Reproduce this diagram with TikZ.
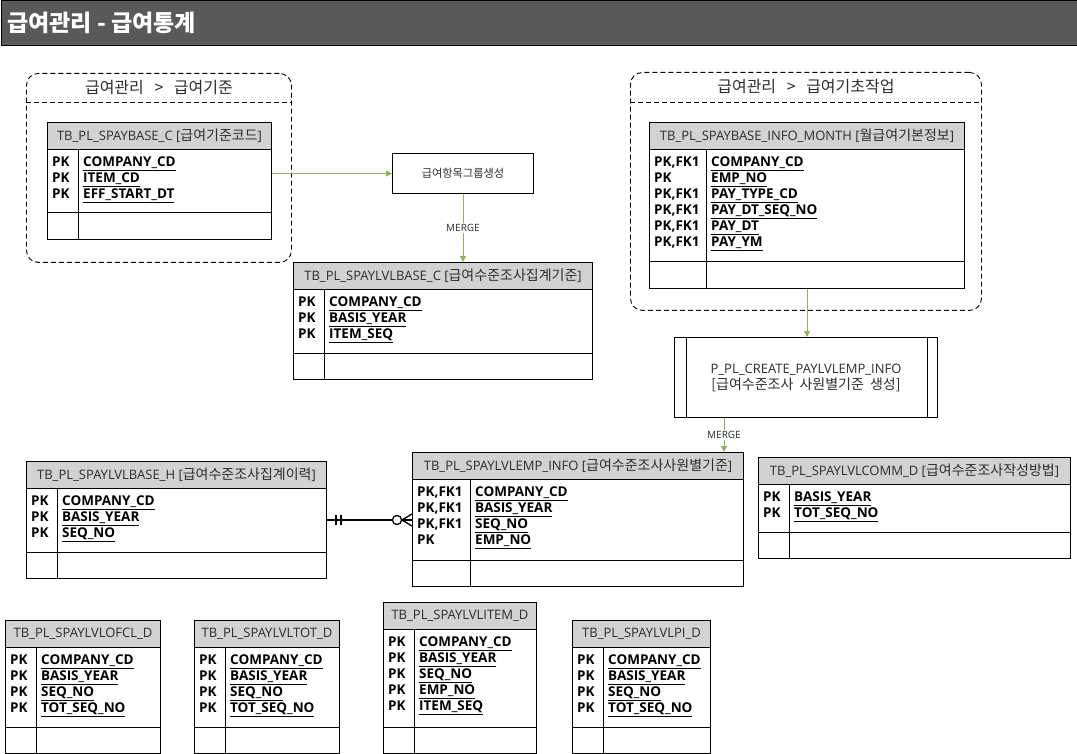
\documentclass[tikz,border=0pt]{standalone}
\usepackage{fontspec}
\setmainfont{Open Sans}
\newfontfamily\kr{Noto Sans CJK KR}
\usetikzlibrary{arrows.meta,calc}
\definecolor{barfill}{RGB}{89,89,89}
\definecolor{hdrfill}{RGB}{210,210,210}
\definecolor{flowgreen}{RGB}{143,180,85}
\definecolor{softtext}{RGB}{45,45,45}
\newcommand\kh[1]{{\kr\fontsize{14}{16}\selectfont #1}}
\tikzset{
  tbl/.style={draw=black, line width=1pt, inner sep=0pt, fill=white},
  tblhdr/.style={draw=black, line width=1pt, fill=hdrfill, inner sep=0pt, text=softtext, font=\fontsize{13}{15}\selectfont},
  tblline/.style={draw=black, line width=1pt},
  rowtxt/.style={inner sep=0pt, anchor=base west, font=\fontsize{13.5}{15}\selectfont\bfseries},
  grp/.style={draw=black, line width=0.9pt, dash pattern=on 5pt off 3pt, rounded corners=12pt, inner sep=0pt},
  grpsep/.style={draw=black, line width=0.9pt, dash pattern=on 5pt off 3pt},
  grptitle/.style={inner sep=0pt, text=softtext, font=\kr\fontsize{16}{18}\selectfont},
  procbox/.style={draw=black, line width=1pt, inner sep=0pt, fill=white, text=softtext},
  flow/.style={draw=flowgreen, line width=1pt, -{Triangle[width=6pt,length=6pt]}},
  flowlbl/.style={fill=white, inner sep=1pt, text=softtext, font=\fontsize{10}{11}\selectfont},
  erline/.style={draw=black, line width=1.6pt},
}
% #1 name, #2 x, #3 y, #4 width, #5 body height, #6 divider offset, #7 title, #8 rows
\newcommand\ertab[8]{%
  \node[tbl, minimum width=#4pt, minimum height={#5pt+54pt}, anchor=north west] (#1) at (#2,#3) {};
  \node[tblhdr, minimum width=#4pt, minimum height=27pt, anchor=north west] (#1-h) at (#2,#3) {#7};
  \draw[tblline] ($(#1-h.south west)+(0,#5)$) -- ($(#1-h.south east)+(0,#5)$);
  \draw[tblline] ($(#1-h.south west)+(#6,0)$) -- ($(#1.south west)+(#6,0)$);
  \foreach \k/\f [count=\i] in {#8} {
    \node[rowtxt] (#1-k\i) at ($(#1-h.south west)+(5,0.5+16*\i)$) {\k};
    \node[rowtxt] (#1-f\i) at ($(#1-h.south west)+(#6+5,0.5+16*\i)$) {\underline{\f}};
  }%
}
\begin{document}
\begin{tikzpicture}[x=1pt,y=-1pt]
\useasboundingbox (0,0) rectangle (1077,754);

% title bar
\node[fill=barfill, draw=black, line width=1pt, minimum width=1076pt, minimum height=45pt, anchor=north west, inner sep=0pt] (bar) at (0.5,0.5) {};
\node[anchor=west, text=white, inner sep=0pt, font=\kr\bfseries\fontsize{23}{26}\selectfont] (bartxt) at (7,23) {급여관리 - 급여통계};

% groups
\node[grp, minimum width=265pt, minimum height=189pt, anchor=north west] (g1) at (26,73) {};
\draw[grpsep] ($(g1.north west)+(0,29)$) -- ($(g1.north east)+(0,29)$);
\node[grptitle] (g1t) at ($(g1.north)+(0,14.5)$) {급여관리\hspace{7pt} > \hspace{7pt}급여기준};

\node[grp, minimum width=351pt, minimum height=238pt, anchor=north west] (g2) at (630,72) {};
\draw[grpsep] ($(g2.north west)+(0,30)$) -- ($(g2.north east)+(0,30)$);
\node[grptitle] (g2t) at ($(g2.north)+(0,15)$) {급여관리\hspace{7pt} > \hspace{7pt}급여기초작업};

% tables
\ertab{sb}{47}{122}{224}{63}{31}{TB\_PL\_SPAYBASE\_C [\kh{급여기준코드}]}{PK/COMPANY\_CD, PK/ITEM\_CD, PK/EFF\_START\_DT}
\ertab{lbc}{293}{262}{299}{63}{31}{TB\_PL\_SPAYLVLBASE\_C [\kh{급여수준조사집계기준}]}{PK/COMPANY\_CD, PK/BASIS\_YEAR, PK/ITEM\_SEQ}
\ertab{im}{649}{122}{315}{112}{57}{TB\_PL\_SPAYBASE\_INFO\_MONTH [\kh{월급여기본정보}]}{{PK,FK1}/COMPANY\_CD, PK/EMP\_NO, {PK,FK1}/PAY\_TYPE\_CD, {PK,FK1}/PAY\_DT\_SEQ\_NO, {PK,FK1}/PAY\_DT, {PK,FK1}/PAY\_YM}
\ertab{lbh}{26}{461}{300}{63}{31}{TB\_PL\_SPAYLVLBASE\_H [\kh{급여수준조사집계이력}]}{PK/COMPANY\_CD, PK/BASIS\_YEAR, PK/SEQ\_NO}
\ertab{emp}{412}{452}{331}{80}{58}{TB\_PL\_SPAYLVLEMP\_INFO [\kh{급여수준조사사원별기준}]}{{PK,FK1}/COMPANY\_CD, {PK,FK1}/BASIS\_YEAR, {PK,FK1}/SEQ\_NO, PK/EMP\_NO}
\ertab{comm}{758}{457}{312}{47}{31}{TB\_PL\_SPAYLVLCOMM\_D [\kh{급여수준조사작성방법}]}{PK/BASIS\_YEAR, PK/TOT\_SEQ\_NO}
\ertab{ofcl}{5}{620}{155}{79}{31}{TB\_PL\_SPAYLVLOFCL\_D}{PK/COMPANY\_CD, PK/BASIS\_YEAR, PK/SEQ\_NO, PK/TOT\_SEQ\_NO}
\ertab{tot}{194}{620}{145}{79}{31}{TB\_PL\_SPAYLVLTOT\_D}{PK/COMPANY\_CD, PK/BASIS\_YEAR, PK/SEQ\_NO, PK/TOT\_SEQ\_NO}
\ertab{item}{383}{602}{153}{97}{31}{TB\_PL\_SPAYLVLITEM\_D}{PK/COMPANY\_CD, PK/BASIS\_YEAR, PK/SEQ\_NO, PK/EMP\_NO, PK/ITEM\_SEQ}
\ertab{pi}{572}{620}{138}{79}{31}{TB\_PL\_SPAYLVLPI\_D}{PK/COMPANY\_CD, PK/BASIS\_YEAR, PK/SEQ\_NO, PK/TOT\_SEQ\_NO}

% process boxes
\node[procbox, minimum width=141pt, minimum height=40pt, anchor=north west, font=\kr\fontsize{11.2}{13}\selectfont] (p1) at (392,153) {급여항목그룹생성};
\node[procbox, minimum width=263pt, minimum height=80pt, anchor=north west, align=center, font=\fontsize{13}{16}\selectfont] (p2) at (674,337) {P\_PL\_CREATE\_PAYLVLEMP\_INFO\\{\kr\fontsize{14}{16}\selectfont [급여수준조사\hspace{3pt} 사원별기준\hspace{3pt} 생성]}};
\draw[tblline] ($(p2.north west)+(12,0)$) -- ($(p2.south west)+(12,0)$);
\draw[tblline] ($(p2.north east)+(-11,0)$) -- ($(p2.south east)+(-11,0)$);

% flows
\draw[flow] (sb.east |- p1.west) -- (p1.west);
\draw[flow] (p1.south) -- node[flowlbl] (m1) {MERGE} (p1.south |- lbc.north);
\draw[flow] (im.south) -- (im.south |- p2.north);
\coordinate (p2m) at ($(p2.south west)+(50,0)$);
\draw[flow] (p2m) -- node[flowlbl] (m2) {MERGE} (p2m |- emp.north);

% ER relationship
\coordinate (erA) at (lbh.east);
\coordinate (erB) at (lbh.east -| emp.west);
\draw[erline] (erA) -- (erB);
\draw[erline, line width=1.3pt] ($(erA)+(9,-5)$) -- ($(erA)+(9,5)$);
\draw[erline, line width=1.3pt] ($(erA)+(14,-5)$) -- ($(erA)+(14,5)$);
\draw[erline, line width=1.3pt, fill=white] ($(erB)+(-15,0)$) circle (4.6pt);
\draw[erline, line width=1.3pt] ($(erB)+(-10,0)$) -- ($(erB)+(0,-6)$);
\draw[erline, line width=1.3pt] ($(erB)+(-10,0)$) -- ($(erB)+(0,6)$);
\end{tikzpicture}
\end{document}
